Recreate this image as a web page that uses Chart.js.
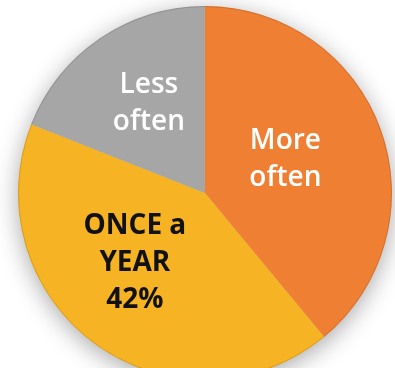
<!DOCTYPE html>
<html>
<head>
<meta charset="utf-8">
<script src="https://cdn.jsdelivr.net/npm/chart.js@4/dist/chart.umd.min.js"></script>
<style>
  html, body { margin: 0; padding: 0; background: #ffffff; }
  #wrap { width: 395px; height: 368px; overflow: hidden; position: relative; }
  canvas { display: block; }
</style>
</head>
<body>
<div id="wrap"><canvas id="c" width="395" height="385"></canvas></div>
<script>
const categories = ["More often", "ONCE a YEAR", "Less often"];
const values = [39, 42, 19];
const labelLines = [["More", "often"], ["ONCE a", "YEAR", "42%"], ["Less", "often"]];
const colors = ["#EE7F33", "#F6B323", "#A6A6A6"];

const labelStyle = [
  { fx: 0.43, fy: -0.18, color: "#ffffff", weight: 600 },
  { fx: -0.375, fy: 0.375, color: "#111111", weight: 700 },
  { fx: -0.30, fy: -0.48, color: "#ffffff", weight: 600 }
];

const shadowPlugin = {
  id: 'pieShadow',
  beforeDatasetsDraw(chart) {
    const arc = chart.getDatasetMeta(0).data[0];
    if (!arc) return;
    const ctx = chart.ctx;
    ctx.save();
    ctx.shadowColor = 'rgba(0,0,0,0.35)';
    ctx.shadowBlur = 24;
    ctx.shadowOffsetX = 0;
    ctx.shadowOffsetY = 5;
    ctx.fillStyle = '#bbbbbb';
    ctx.beginPath();
    ctx.arc(arc.x, arc.y, arc.outerRadius - 0.5, 0, Math.PI * 2);
    ctx.fill();
    ctx.restore();
  },
  afterDatasetsDraw(chart) {
    const arc = chart.getDatasetMeta(0).data[0];
    if (!arc) return;
    const ctx = chart.ctx;
    ctx.save();
    ctx.strokeStyle = 'rgba(0,0,0,0.12)';
    ctx.lineWidth = 1;
    ctx.beginPath();
    ctx.arc(arc.x, arc.y, arc.outerRadius - 0.5, 0, Math.PI * 2);
    ctx.stroke();
    ctx.restore();
  }
};

const labelPlugin = {
  id: 'sliceLabels',
  afterDatasetsDraw(chart) {
    const meta = chart.getDatasetMeta(0);
    const ctx = chart.ctx;
    const lineH = 37;
    meta.data.forEach((arc, i) => {
      const st = labelStyle[i];
      const cx = arc.x + arc.outerRadius * st.fx;
      const cy = arc.y + arc.outerRadius * st.fy;
      const lines = labelLines[i];
      ctx.save();
      ctx.fillStyle = st.color;
      ctx.font = st.weight + ' 28px "Open Sans", "Noto Sans", sans-serif';
      ctx.textAlign = 'center';
      ctx.textBaseline = 'middle';
      const startY = cy - (lines.length - 1) * lineH / 2;
      lines.forEach((t, k) => ctx.fillText(t, cx, startY + k * lineH));
      ctx.restore();
    });
  }
};

new Chart(document.getElementById('c'), {
  type: 'pie',
  data: {
    labels: categories,
    datasets: [{
      data: values,
      backgroundColor: colors,
      borderWidth: 0,
      hoverOffset: 0
    }]
  },
  options: {
    responsive: false,
    animation: false,
    layout: { padding: { left: 18, right: 3, top: 6, bottom: 5 } },
    plugins: {
      legend: { display: false },
      tooltip: { enabled: false }
    }
  },
  plugins: [shadowPlugin, labelPlugin]
});
</script>
</body>
</html>
